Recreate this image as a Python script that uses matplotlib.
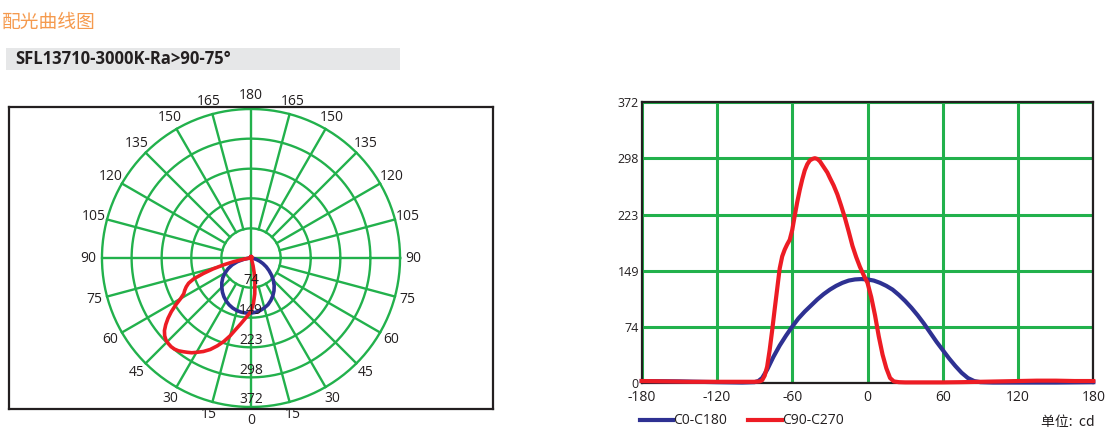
import numpy as np
import matplotlib
matplotlib.use("Agg")
import matplotlib.pyplot as plt
from matplotlib.lines import Line2D
from matplotlib.patches import Rectangle

plt.rcParams['font.family'] = ['Open Sans', 'Noto Sans CJK SC', 'DejaVu Sans']

# ---------------- data ----------------
title = "配光曲线图"
subtitle = "SFL13710-3000K-Ra>90-75°"
radial_ticks = [74, 149, 223, 298, 372]
ytick_labels = [0, 74, 149, 223, 298, 372]
xticks = [-180, -120, -60, 0, 60, 120, 180]
angle_ticks = list(range(0, 181, 15))

red_angles = [-180, -160, -140, -120, -100, -90, -86, -84, -82, -80, -78, -76, -74, -72,
              -70, -68, -66, -64, -62, -60, -58, -56, -54, -52, -50, -48, -46, -44, -42,
              -40, -38, -36, -34, -32, -30, -27, -24, -21, -18, -15, -12, -9, -6, -3, 0,
              3, 6, 9, 12, 15, 18, 21, 25, 30, 45, 60, 75, 90, 105, 120, 135, 150, 165, 180]
red_values = [3, 2.5, 2, 2, 2, 2, 2.5, 4, 10, 22, 44, 70, 98, 125,
              152, 168, 177, 184, 190, 203, 222, 240, 256, 270, 282, 290, 295, 297, 298,
              297, 294, 289, 284, 279, 272, 262, 250, 235, 219, 201, 182, 167, 154, 143, 133,
              114, 90, 62, 38, 20, 7, 2.5, 1.5, 1.2, 1.2, 1.2, 1.5, 2, 2.5, 3, 3.5, 3.5, 3, 3]

blue_angles = [-180, -150, -120, -100, -90, -87, -84, -80, -75, -70, -65, -60, -55, -50,
               -45, -40, -35, -30, -25, -20, -15, -10, -5, 0, 5, 10, 15, 20, 25, 30, 35,
               40, 45, 50, 55, 60, 65, 70, 75, 80, 85, 90, 100, 120, 150, 180]
blue_values = [3, 2.5, 1.5, 1, 1.5, 3, 7, 18, 35, 50, 63, 75, 86, 95,
               103, 111, 118, 124, 129, 133, 136, 137.5, 138, 137.5, 136, 133, 129, 124, 117, 109, 100,
               90, 79, 67, 55, 44, 33, 23, 14, 7, 3, 1.5, 1, 1, 1, 1.5]

GREEN = '#22b14c'
RED = '#ed1c24'
BLUE = '#2e3192'
W, H = 1108, 442

fig = plt.figure(figsize=(W / 100, H / 100), dpi=100)

# ---------------- header ----------------
fig.text(2 / W, 1 - 22 / H, title, color='#f59a4e', fontsize=13.5,
         family=['Noto Sans CJK SC', 'DejaVu Sans'], va='center', ha='left')
fig.add_artist(Rectangle((6 / W, 1 - 70 / H), 394 / W, 22 / H, transform=fig.transFigure,
                         facecolor='#e6e7e8', edgecolor='none'))
fig.text(15 / W, 1 - 59 / H, subtitle, color='#231f20', fontsize=12, fontweight='bold',
         va='center', ha='left')

# ---------------- polar chart (drawn on cartesian axes) ----------------
ax1 = fig.add_axes([9 / W, 1 - 409 / H, 484 / W, 302 / H])
ax1.set_xlim(-604, 604)
ax1.set_ylim(-377, 377)
ax1.set_xticks([])
ax1.set_yticks([])
for s in ax1.spines.values():
    s.set_linewidth(1.6)
    s.set_color('#231f20')

rmax = radial_ticks[-1]
t = np.linspace(0, 2 * np.pi, 400)
for r in radial_ticks:
    ax1.plot(r * np.cos(t), r * np.sin(t), color=GREEN, lw=1.7, zorder=1, clip_on=False)
for a in range(0, 360, 15):
    r0 = 0 if a % 90 == 0 else radial_ticks[0]
    th = np.deg2rad(a)
    ax1.plot([r0 * np.sin(th), rmax * np.sin(th)], [-r0 * np.cos(th), -rmax * np.cos(th)],
             color=GREEN, lw=1.7, zorder=1, clip_on=False)

rl = 405
for a in angle_ticks:
    th = np.deg2rad(a)
    sides = [1] if a in (0, 180) else [1, -1]
    for sgn in sides:
        ax1.text(sgn * rl * np.sin(th), -rl * np.cos(th), str(a), ha='center', va='center',
                 fontsize=10, color='#231f20', zorder=5)
for r in radial_ticks:
    ax1.text(0, -(r - 18), str(r), ha='center', va='center', fontsize=10,
             color='#231f20', zorder=5)

ra = np.deg2rad(np.array(red_angles))
rv = np.array(red_values)
ba = np.deg2rad(np.array(blue_angles))
bv = np.array(blue_values)
ax1.plot(bv * np.sin(ba), -bv * np.cos(ba), color=BLUE, lw=2.6, zorder=3)
ax1.plot(rv * np.sin(ra), -rv * np.cos(ra), color=RED, lw=2.6, zorder=4)

# ---------------- cartesian chart ----------------
ax2 = fig.add_axes([641.7 / W, 1 - 383.3 / H, 451.6 / W, 281 / H])
ax2.set_xlim(-180, 180)
ax2.set_ylim(0, 372)
ax2.set_xticks(xticks)
ax2.set_yticks(ytick_labels)
ax2.set_yticklabels([str(v) for v in ytick_labels], fontsize=9)
ax2.set_xticklabels([str(v) for v in xticks], fontsize=10)
ax2.tick_params(length=0, pad=5, colors='#231f20')
ax2.tick_params(axis='y', pad=2)
ax2.grid(True, color=GREEN, lw=2.2)
ax2.set_axisbelow(True)
for s in ax2.spines.values():
    s.set_linewidth(1.6)
    s.set_color('#231f20')
    s.set_zorder(2.5)
ax2.plot(blue_angles, blue_values, color=BLUE, lw=3, zorder=3, clip_on=False)
ax2.plot(red_angles, red_values, color=RED, lw=3, zorder=4, clip_on=False)

# legend
fig.add_artist(Line2D([640 / W, 673 / W], [1 - 420 / H, 1 - 420 / H], color=BLUE, lw=3,
                      transform=fig.transFigure))
fig.text(673 / W, 1 - 420 / H, 'C0-C180', fontsize=10, va='center', ha='left', color='#231f20')
fig.add_artist(Line2D([748 / W, 782 / W], [1 - 420 / H, 1 - 420 / H], color=RED, lw=3,
                      transform=fig.transFigure))
fig.text(782 / W, 1 - 420 / H, 'C90-C270', fontsize=10, va='center', ha='left', color='#231f20')
fig.text(1095 / W, 1 - 422 / H, '单位:  cd', fontsize=10, va='center', ha='right',
         color='#231f20', family=['Noto Sans CJK SC', 'DejaVu Sans'])

fig.savefig('out.png', dpi=100)
